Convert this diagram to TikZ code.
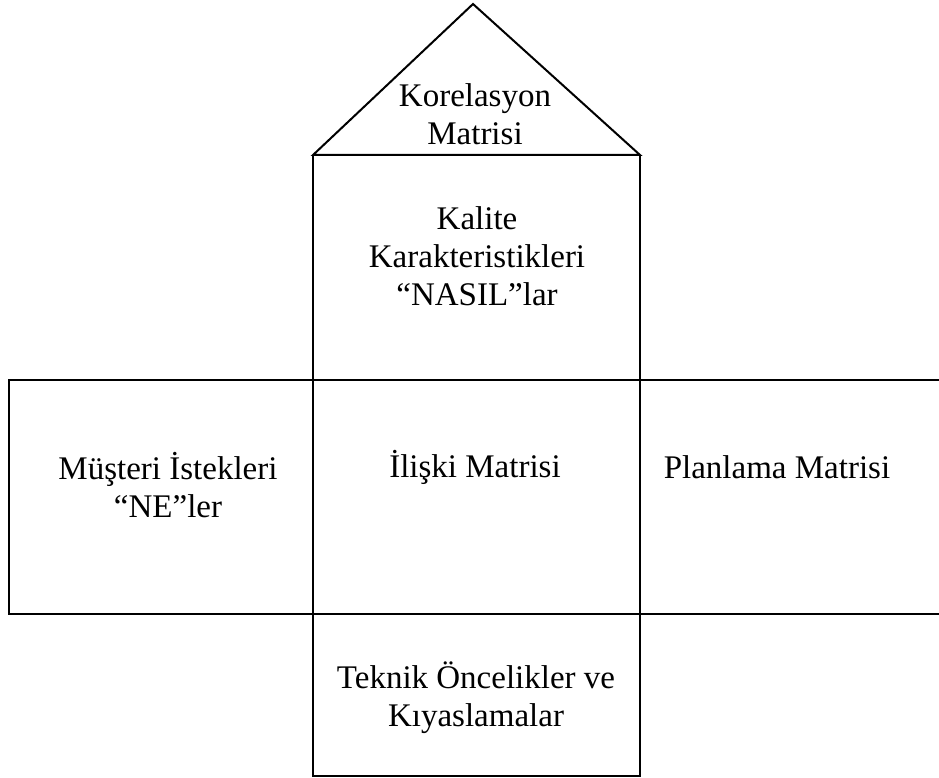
\documentclass[tikz,border=0pt]{standalone}
\usepackage{fontspec}
\setmainfont{Liberation Serif}
\begin{document}
\begin{tikzpicture}[x=1pt,y=-1pt,
    wall/.style={draw=black,line width=2pt,line join=miter},
    label/.style={font=\fontsize{33}{38}\selectfont,align=center,inner sep=0pt}]
  \useasboundingbox (0,0) rectangle (939,778);
  % frame corners
  \coordinate (apex) at (473,4);
  \coordinate (rl) at (313,155);
  \coordinate (rr) at (640,155);
  \coordinate (ml) at (313,380);
  \coordinate (mr) at (640,380);
  \coordinate (ll) at (313,614);
  \coordinate (lr) at (640,614);
  \coordinate (bl) at (313,776);
  \coordinate (br) at (640,776);
  \coordinate (wl) at (9,380);
  \coordinate (wlb) at (9,614);
  \coordinate (er) at (939,380);
  \coordinate (erb) at (939,614);
  % roof
  \draw[wall] (rl) -- (apex) -- (rr) -- cycle;
  % central column
  \draw[wall] (rl) -- (bl) -- (br) -- (rr);
  \draw[wall] (ml) -- (mr);
  \draw[wall] (ll) -- (lr);
  % left wing
  \draw[wall] (ml) -- (wl) -- (wlb) -- (ll);
  % right wing
  \draw[wall] (mr) -- (er);
  \draw[wall] (lr) -- (erb);
  % texts
  \node[label] (kor) at (475,114) {Korelasyon\\Matrisi};
  \node[label] (kal) at (477,256) {Kalite\\Karakteristikleri\\“NASIL”lar};
  \node[label] (mus) at (168,485) {Müşteri İstekleri\\“NE”ler};
  \node[label] (ili) at (475,467) {İlişki Matrisi};
  \node[label] (pla) at (777,467) {Planlama Matrisi};
  \node[label] (tek) at (476,698) {Teknik Öncelikler ve\\Kıyaslamalar};
\end{tikzpicture}
\end{document}
